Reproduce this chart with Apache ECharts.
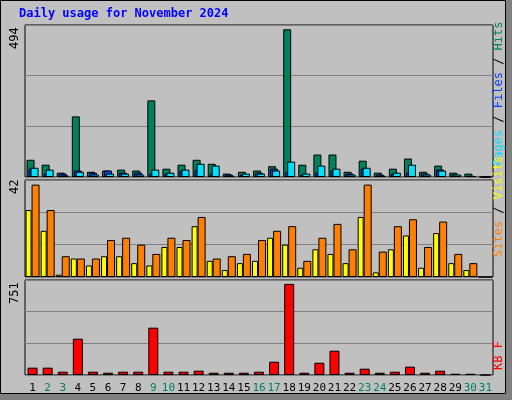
<!DOCTYPE html>
<html><head><meta charset="utf-8">
<script src="https://cdn.jsdelivr.net/npm/echarts@6/dist/echarts.min.js"></script>
<style>body{margin:0;background:#c0c0c0}#c{width:512px;height:400px}</style>
</head><body><div id="c"></div>
<script>
var days = [];
for (var d = 1; d <= 31; d++) days.push(String(d));
var weekend = [2,3,9,10,16,17,23,24,30,31];
var hits  = [56,40,14,197,17,21,24,21,249,27,40,56,43,11,17,21,35,480,40,73,73,17,53,14,27,60,17,37,14,11,0];
var files = [27,11,11,21,14,21,14,14,11,11,21,24,11,8,8,14,27,17,8,14,21,11,27,8,11,14,11,24,8,4,0];
var pages = [30,24,5,17,8,11,11,8,24,14,24,43,37,4,11,11,21,50,11,37,27,8,30,4,14,40,8,21,8,3,0];
var visits = [29,20,1,8,5,9,9,6,5,13,13,22,7,3,6,7,17,14,4,12,10,6,26,2,12,18,4,19,6,3,0];
var sites  = [40,29,9,8,8,16,17,14,10,17,16,26,8,9,10,16,20,22,7,17,23,12,40,11,22,25,13,24,10,6,0];
var kbytes = [58,58,26,287,26,18,26,26,374,26,26,34,18,18,18,26,105,720,18,97,192,18,50,18,26,66,18,34,10,10,0];
var maxTop = 494, maxMid = 42, maxBot = 751;

var font = '"DejaVu Sans Mono", monospace';
var grids = [
  {left:25, top:25, width:468, height:152},
  {left:25, top:180, width:468, height:97},
  {left:25, top:280, width:468, height:95}
];
grids.forEach(function(g){ g.show = true; g.borderColor = '#000'; g.borderWidth = 1; g.backgroundColor = '#c0c0c0'; });

function xAx(i, showLabels){
  return {type:'category', gridIndex:i, data:days, boundaryGap:true,
    axisLine:{show:false}, axisTick:{show:false},
    axisLabel:{show:showLabels, interval:0, margin:8, fontFamily:font, fontSize:11,
      formatter:function(v){ return weekend.indexOf(+v) >= 0 ? '{g|'+v+'}' : '{k|'+v+'}'; },
      rich:{g:{color:'#00805c', fontFamily:font, fontSize:11}, k:{color:'#000', fontFamily:font, fontSize:11}}}};
}
function yAx(i, max){
  return {type:'value', gridIndex:i, min:0, max:max, interval:max/3,
    axisLine:{show:false}, axisTick:{show:false},
    splitLine:{lineStyle:{color:'#808080', width:1}},
    axisLabel:{show:false}};
}
function bar(name, data, color, xi, w, gap){
  return {name:name, type:'bar', xAxisIndex:xi, yAxisIndex:xi, data:data, barWidth:w, barGap:gap,
    itemStyle:{color:color, borderColor:'#000', borderWidth:1}, animation:false};
}
function vtext(x, y, style){
  style.verticalAlign = 'bottom';
  style.align = 'left';
  return {type:'text', x:x, y:y, rotation:Math.PI/2, style:style};
}
var f12 = '12px ' + font;
var chart = echarts.init(document.getElementById('c'));
chart.setOption({
  backgroundColor:'#c0c0c0',
  animation:false,
  grid:grids,
  xAxis:[xAx(0,false), xAx(1,false), xAx(2,true)],
  yAxis:[yAx(0,maxTop), yAx(1,maxMid), yAx(2,maxBot)],
  series:[
    bar('Hits', hits, '#00805c', 0, 8, '-75%'),
    bar('Files', files, '#0040ff', 0, 8, '-75%'),
    bar('Pages', pages, '#00e0ff', 0, 8, '-75%'),
    bar('Visits', visits, '#ffff00', 1, 6, '0%'),
    bar('Sites', sites, '#ff8000', 1, 8, '0%'),
    bar('KB F', kbytes, '#ff0000', 2, 10, '0%')
  ],
  graphic:[
    {type:'rect', shape:{x:0.5,y:0.5,width:505,height:393}, style:{fill:'none', stroke:'#000', lineWidth:1}},
    {type:'rect', shape:{x:506,y:0,width:6,height:400}, style:{fill:'#808080'}},
    {type:'rect', shape:{x:0,y:394,width:512,height:6}, style:{fill:'#808080'}},
    {type:'text', left:19, top:8, style:{text:'Daily usage for November 2024', fill:'#0000ff', font:'bold 12px '+font}},
    vtext(21, 49, {text:String(maxTop), fill:'#000', font:f12}),
    vtext(21, 194, {text:String(maxMid), fill:'#000', font:f12}),
    vtext(21, 304, {text:String(maxBot), fill:'#000', font:f12}),
    vtext(505, 166, {text:'{c|Pages} {s|/} {b|Files} {s|/} {g|Hits}', font:f12,
      rich:{c:{fill:'#00e0ff', font:f12}, b:{fill:'#0040ff', font:f12}, g:{fill:'#00805c', font:f12}, s:{fill:'#000', font:f12}}}),
    vtext(505, 257, {text:'{o|Sites} {s|/} {y|Visits}', font:f12,
      rich:{o:{fill:'#ff8000', font:f12}, y:{fill:'#ffff00', font:f12}, s:{fill:'#000', font:f12}}}),
    vtext(505, 370, {text:'KB F', fill:'#ff0000', font:f12})
  ]
});
</script>
</body></html>
